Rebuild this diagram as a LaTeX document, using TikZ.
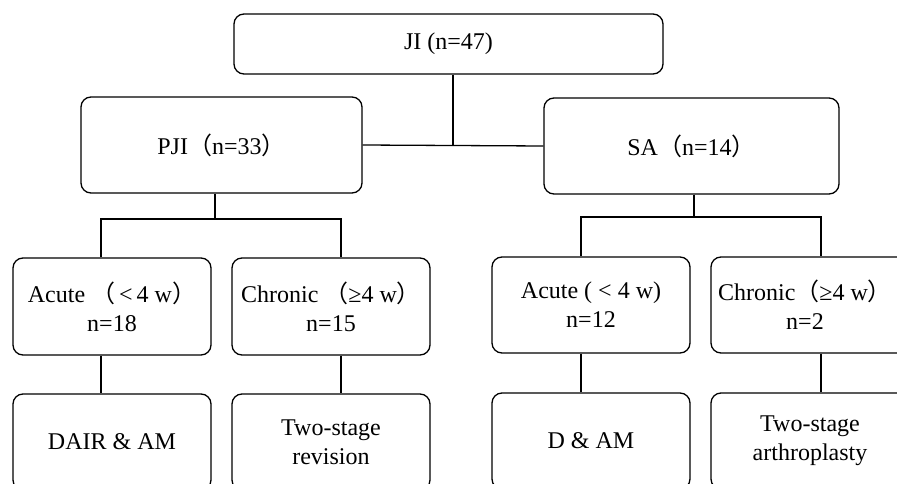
\documentclass[tikz,border=0pt]{standalone}
\usepackage{fontspec}
\setmainfont{Liberation Serif}
\newfontfamily\cjk{Noto Sans CJK SC}
\begin{document}
\begin{tikzpicture}[x=1pt,y=-1pt,
  box/.style={draw, line width=1.3pt, rounded corners=10pt, inner sep=0pt,
    align=center, font=\fontsize{24}{29}\selectfont},
  link/.style={line width=1.3pt}]
\useasboundingbox (0,0) rectangle (897,484);
\clip (0,0) rectangle (897,484);
\fill[white] (0,0) rectangle (897,484);
\node[box, minimum width=429pt, minimum height=60pt] (ji) at (448.5,44) {JI (n=47)};
\node[box, minimum width=281pt, minimum height=96pt] (pji) at (221.5,145) {PJI{\cjk （}n=33{\cjk ）}};
\node[box, minimum width=295pt, minimum height=96pt] (sa) at (691.5,146) {SA{\cjk （}n=14{\cjk ）}};
\node[box, minimum width=198pt, minimum height=97pt] (apji) at (112,306.5) {Acute {\cjk （}\,<\,4 w{\cjk ）}\\n=18};
\node[box, minimum width=198pt, minimum height=97pt] (cpji) at (331,306.5) {Chronic {\cjk （}≥4 w{\cjk ）}\\n=15};
\node[box, minimum width=198pt, minimum height=96pt] (asa) at (591,305) {Acute ( < 4 w)\\n=12};
\node[box, minimum width=198pt, minimum height=96pt] (csa) at (810,305) {Chronic{\cjk （}≥4 w{\cjk ）}\hspace*{10pt}\\n=2\hspace*{10pt}};
\node[box, minimum width=198pt, minimum height=96pt] (dair) at (112,442) {DAIR \& AM};
\node[box, minimum width=198pt, minimum height=96pt] (tsr) at (331,442) {Two-stage\\revision};
\node[box, minimum width=198pt, minimum height=96pt] (dam) at (591,441) {D \& AM};
\node[box, minimum width=198pt, minimum height=96pt] (tsa) at (810,441) {Two-stage\\arthroplasty};
% top
\coordinate (jib) at (453,146);
\draw[link] ([xshift=4.5pt]ji.south) -- (jib);
\draw[link] (pji.east) -- (sa.west);
% PJI branch
\coordinate (pjib) at (215,219);
\draw[link] ([xshift=-6.5pt]pji.south) -- (pjib);
\draw[link] ([xshift=-11pt]apji.north) |- (pjib) -| ([xshift=10pt]cpji.north);
% SA branch
\coordinate (sab) at (694,217);
\draw[link] ([xshift=2.5pt]sa.south) -- (sab);
\draw[link] ([xshift=-10pt]asa.north) |- (sab) -| ([xshift=11pt]csa.north);
% bottom links
\draw[link] ([xshift=-11pt]apji.south) -- ([xshift=-11pt]dair.north);
\draw[link] ([xshift=10pt]cpji.south) -- ([xshift=10pt]tsr.north);
\draw[link] ([xshift=-10pt]asa.south) -- ([xshift=-10pt]dam.north);
\draw[link] ([xshift=11pt]csa.south) -- ([xshift=11pt]tsa.north);
\end{tikzpicture}
\end{document}
